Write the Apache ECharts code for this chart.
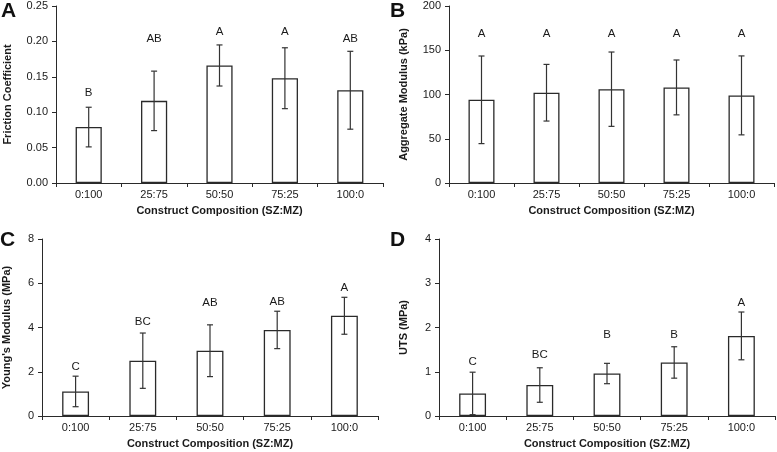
<!DOCTYPE html>
<html>
<head>
<meta charset="utf-8">
<script src="https://cdn.jsdelivr.net/npm/echarts@6/dist/echarts.min.js"></script>
<style>
html,body{margin:0;padding:0;background:#fff;}
#chart{width:777px;height:452px;}
</style>
</head>
<body>
<div id="chart"></div>
<script>
const categories = ['0:100', '25:75', '50:50', '75:25', '100:0'];

const frictionMean = [0.079, 0.116, 0.166, 0.148, 0.131];
const frictionSD = [0.028, 0.042, 0.029, 0.043, 0.055];
const frictionLetters = ['B', 'AB', 'A', 'A', 'AB'];
const frictionLetterY = [0.127, 0.203, 0.213, 0.213, 0.203];
const frictionTicks = [0, 0.25, 0.05];

const aggregateMean = [94, 102, 106, 108, 99];
const aggregateSD = [49.5, 32, 42, 31, 44.6];
const aggregateLetters = ['A', 'A', 'A', 'A', 'A'];
const aggregateLetterY = [168.7, 168.7, 168.7, 168.7, 168.7];
const aggregateTicks = [0, 200, 50];

const youngMean = [1.11, 2.50, 2.95, 3.89, 4.53];
const youngSD = [0.69, 1.25, 1.17, 0.845, 0.835];
const youngLetters = ['C', 'BC', 'AB', 'AB', 'A'];
const youngLetterY = [2.23, 4.25, 5.12, 5.17, 5.80];
const youngTicks = [0, 8, 2];

const utsMean = [0.51, 0.70, 0.96, 1.21, 1.81];
const utsSD = [0.48, 0.39, 0.23, 0.355, 0.54];
const utsLetters = ['C', 'BC', 'B', 'B', 'A'];
const utsLetterY = [1.23, 1.39, 1.83, 1.83, 2.55];
const utsTicks = [0, 4, 1];

const FONT = "'Liberation Sans', Arial, sans-serif";
const TXT = '#1a1a1a';
const LINE = '#2a2a2a';

const panels = [
  {letter: 'A', yName: 'Friction Coefficient', mean: frictionMean, sd: frictionSD, letters: frictionLetters, ly: frictionLetterY, ticks: frictionTicks, dec: 2,
   grid: {left: 56, top: 6, width: 327, height: 177}, nameGap: 43, lx: 1, lyPos: 1},
  {letter: 'B', yName: 'Aggregate Modulus (kPa)', mean: aggregateMean, sd: aggregateSD, letters: aggregateLetters, ly: aggregateLetterY, ticks: aggregateTicks, dec: 0,
   grid: {left: 449, top: 6, width: 325, height: 177}, nameGap: 40, lx: 390, lyPos: 1},
  {letter: 'C', yName: "Young's Modulus (MPa)", mean: youngMean, sd: youngSD, letters: youngLetters, ly: youngLetterY, ticks: youngTicks, dec: 0,
   grid: {left: 41, top: 239, width: 337, height: 177}, nameGap: 30, lx: 0, lyPos: 230},
  {letter: 'D', yName: 'UTS (MPa)', mean: utsMean, sd: utsSD, letters: utsLetters, ly: utsLetterY, ticks: utsTicks, dec: 0,
   grid: {left: 439, top: 239, width: 336, height: 177}, nameGap: 30, lx: 390, lyPos: 230}
];

const grids = [], xAxes = [], yAxes = [], series = [], graphics = [];
panels.forEach((p, i) => {
  grids.push(p.grid);
  xAxes.push({
    type: 'category', gridIndex: i, data: categories,
    name: 'Construct Composition (SZ:MZ)', nameLocation: 'middle', nameGap: 22,
    nameTextStyle: {fontFamily: FONT, fontSize: 11, fontWeight: 'bold', color: TXT},
    axisLine: {lineStyle: {color: LINE, width: 1}},
    axisTick: {show: true, length: 4, lineStyle: {color: LINE}},
    axisLabel: {fontFamily: FONT, fontSize: 11, color: TXT, margin: 6}
  });
  yAxes.push({
    type: 'value', gridIndex: i, min: p.ticks[0], max: p.ticks[1], interval: p.ticks[2],
    name: p.yName, nameLocation: 'middle', nameGap: p.nameGap, nameRotate: 90,
    nameTextStyle: {fontFamily: FONT, fontSize: 11, fontWeight: 'bold', color: TXT},
    axisLine: {show: true, lineStyle: {color: LINE, width: 1}},
    axisTick: {show: true, length: 4, lineStyle: {color: LINE}},
    splitLine: {show: false},
    axisLabel: {fontFamily: FONT, fontSize: 11, color: TXT, margin: 8,
      formatter: v => v.toFixed(p.dec)}
  });
  series.push({
    type: 'bar', xAxisIndex: i, yAxisIndex: i, data: p.mean, barWidth: '40%',
    itemStyle: {color: '#fff', borderColor: LINE, borderWidth: 1.3},
    silent: true
  });
  series.push({
    type: 'custom', xAxisIndex: i, yAxisIndex: i,
    data: p.mean.map((m, k) => [k, m - p.sd[k], m + p.sd[k]]),
    renderItem: (params, api) => {
      const x = api.value(0);
      const lo = api.coord([x, api.value(1)]);
      const hi = api.coord([x, api.value(2)]);
      const w = 3;
      const st = {stroke: '#333', lineWidth: 1.2};
      return {type: 'group', children: [
        {type: 'line', shape: {x1: lo[0], y1: lo[1], x2: hi[0], y2: hi[1]}, style: st},
        {type: 'line', shape: {x1: hi[0] - w, y1: hi[1], x2: hi[0] + w, y2: hi[1]}, style: st},
        {type: 'line', shape: {x1: lo[0] - w, y1: lo[1], x2: lo[0] + w, y2: lo[1]}, style: st}
      ]};
    },
    z: 5, silent: true
  });
  series.push({
    type: 'custom', xAxisIndex: i, yAxisIndex: i,
    data: p.ly.map((y, k) => [k, y, p.letters[k]]),
    renderItem: (params, api) => {
      const c = api.coord([api.value(0), api.value(1)]);
      return {type: 'text', x: c[0], y: c[1], style: {
        text: p.letters[params.dataIndex], fontFamily: FONT, fontSize: 11.5, fill: TXT,
        align: 'center', verticalAlign: 'middle'}};
    },
    z: 6, silent: true
  });
  graphics.push({type: 'text', left: p.lx, top: p.lyPos, style: {
    text: p.letter, fontFamily: FONT, fontSize: 21, fontWeight: 'bold', fill: '#111'}});
});

const chart = echarts.init(document.getElementById('chart'), null, {renderer: 'canvas'});
chart.setOption({
  animation: false,
  backgroundColor: '#fff',
  grid: grids, xAxis: xAxes, yAxis: yAxes, series: series, graphic: graphics
});
</script>
</body>
</html>
